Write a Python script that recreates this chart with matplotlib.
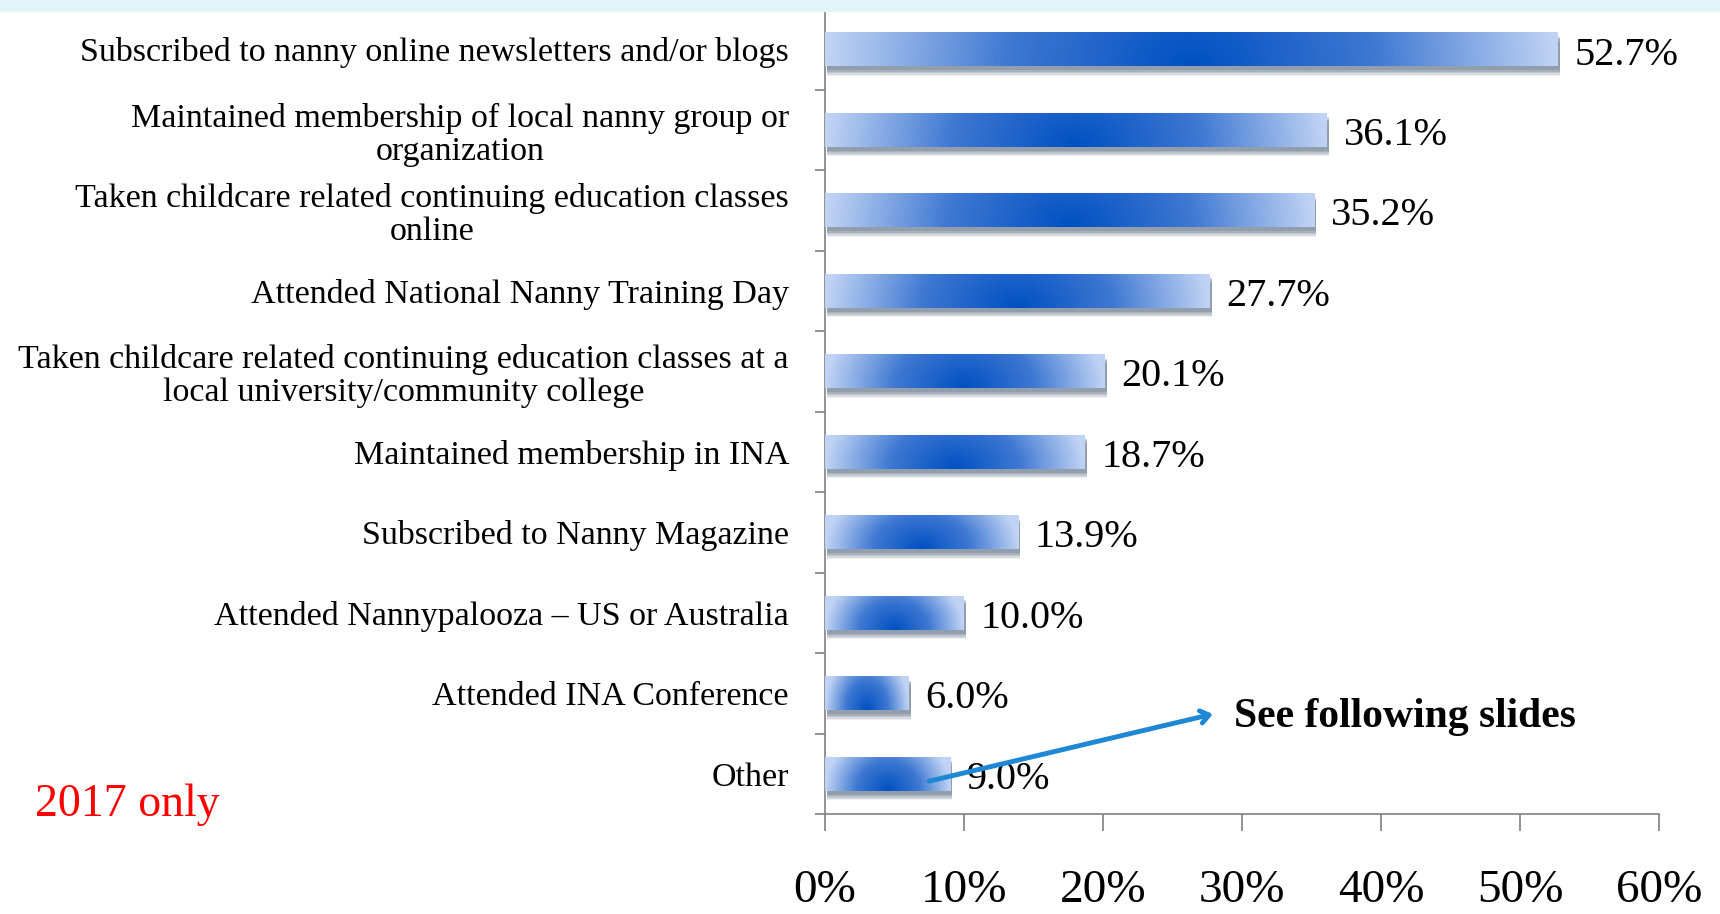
import matplotlib
matplotlib.use("Agg")
import matplotlib.pyplot as plt
import matplotlib.patheffects as pe
from matplotlib.colors import LinearSegmentedColormap
import numpy as np

plt.rcParams['font.family'] = 'Liberation Serif'

# data
categories = [
    "Subscribed to nanny online newsletters and/or blogs",
    "Maintained membership of local nanny group or\norganization",
    "Taken childcare related continuing education classes\nonline",
    "Attended National Nanny Training Day",
    "Taken childcare related continuing education classes at a\nlocal university/community college",
    "Maintained membership in INA",
    "Subscribed to Nanny Magazine",
    "Attended Nannypalooza \u2013 US or Australia",
    "Attended INA Conference",
    "Other",
]
values = [52.7, 36.1, 35.2, 27.7, 20.1, 18.7, 13.9, 10.0, 6.0, 9.0]
xticks = [0, 10, 20, 30, 40, 50, 60]

fig = plt.figure(figsize=(17.2, 9.14), dpi=100)
fig.patch.set_facecolor('white')
# light cyan band at the top of the slide
fig.patches.append(plt.Rectangle((0, 0.988), 1, 0.012, transform=fig.transFigure,
                                 color='#E2F4F8', zorder=0))

ax = fig.add_axes([0.4797, 0.1094, 0.4848, 0.8806])
ax.set_facecolor('none')

y = np.arange(len(categories))
h = 0.42
bars = ax.barh(y, values, height=h, color='#6A95DC', zorder=2)

cmap = LinearSegmentedColormap.from_list('bargrad', ['#0050C2', '#3E78D2', '#C0D3F4'])
# soft shadow under the bars
shadow = [pe.SimplePatchShadow(offset=(1.5, -d), shadow_rgbFace='#55677F', alpha=a)
          for d, a in [(7, 0.10), (6, 0.14), (5, 0.18), (4, 0.22), (3, 0.25)]]
for bar in bars:
    bar.set_path_effects(shadow + [pe.Normal()])
    x0, w = bar.get_x(), bar.get_width()
    y0, bh = bar.get_y(), bar.get_height()
    px = np.linspace(-1, 1, 200)
    py = np.linspace(0, 1, 40)  # 0 = bottom of bar
    XX, YY = np.meshgrid(px, py)
    ratio = min(1.0, 12.0 / max(w, 1e-6))
    t = np.sqrt(XX ** 2 + (0.55 * ratio * YY) ** 2)
    t = np.clip(t, 0, 1)
    im = ax.imshow(t, cmap=cmap, vmin=0, vmax=1, aspect='auto',
                   extent=(x0, x0 + w, y0 + bh, y0), origin='lower',
                   interpolation='bilinear', zorder=3)
    im.set_clip_path(bar)

for yi, v in zip(y, values):
    ax.text(v + 1.2, yi + 0.07, f"{v:.1f}%", ha='left', va='center', fontsize=29, zorder=4)

ax.set_xlim(0, 60)
ax.set_ylim(len(categories) - 0.5, -0.5)
ax.set_xticks(xticks)
ax.set_xticklabels([f"{t}%" for t in xticks], fontsize=34)
ax.set_yticks(y)
ax.set_yticklabels(categories, fontsize=24.5)
for lab in ax.get_yticklabels():
    lab.set_multialignment('center')
    lab.set_linespacing(1.12)
ax.set_yticks(np.arange(-0.5, len(categories), 1.0), minor=True)
ax.tick_params(axis='y', which='major', length=0, pad=26)
ax.tick_params(axis='y', which='minor', length=7, width=1.2, color='#808080', direction='out')
ax.tick_params(axis='x', length=12, width=1.2, color='#808080', direction='out', pad=28)

for s in ['top', 'right']:
    ax.spines[s].set_visible(False)
for s in ['left', 'bottom']:
    ax.spines[s].set_color('#808080')
    ax.spines[s].set_linewidth(1.2)

# annotation arrow pointing to the note
ax.annotate('', xy=(28.1, 8.25), xytext=(7.3, 9.1),
            arrowprops=dict(arrowstyle='->,head_length=0.6,head_width=0.45',
                            color='#1E88D4', lw=3.5), zorder=5)
ax.text(29.4, 8.3, "See following slides", fontsize=30, fontweight='bold',
        ha='left', va='center', zorder=5)

fig.text(0.0204, 0.120, "2017 only", color='#FF0000', fontsize=33, ha='left', va='center')

fig.savefig("out.png", dpi=100)
